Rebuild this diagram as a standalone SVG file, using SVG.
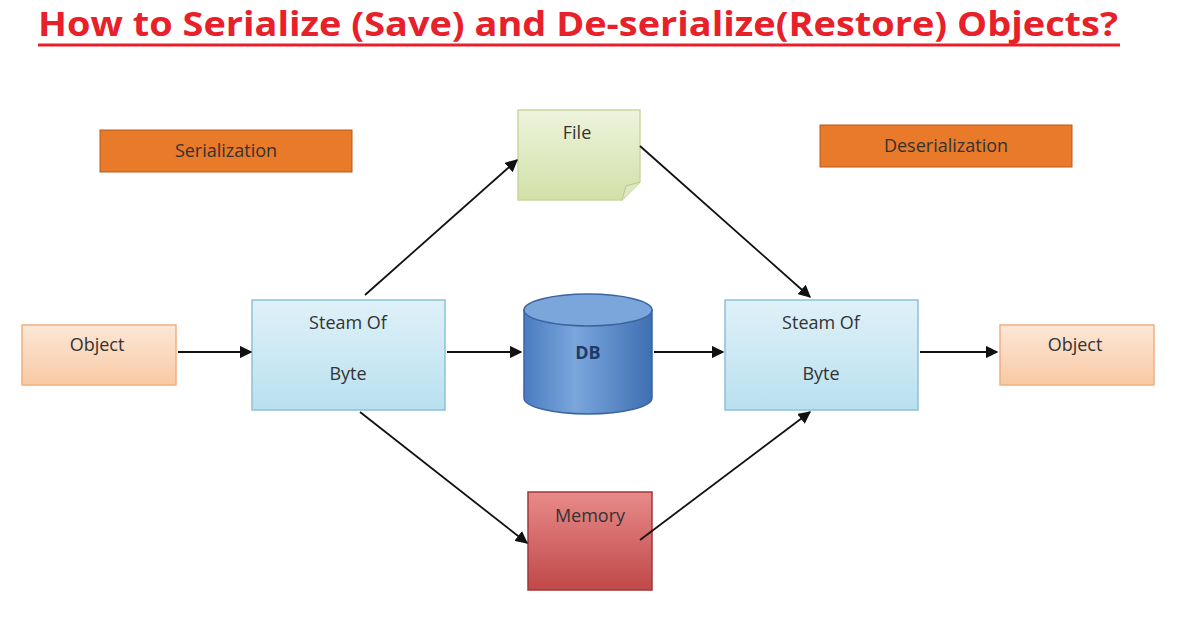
<svg xmlns="http://www.w3.org/2000/svg" width="1196" height="628" viewBox="0 0 1196 628">
<style>
text{font-family:"Open Sans","Liberation Sans",sans-serif;fill:#333;font-size:18px;text-anchor:middle}
.title{font-family:"Open Sans","Liberation Sans",sans-serif;font-weight:bold;font-size:34px;fill:#e8202a;text-anchor:start}
.con line{stroke:#111;stroke-width:1.8;marker-end:url(#ah)}
.lbl{fill:#e87a2a;stroke:#b85a1a;stroke-width:1}
.blue{fill:url(#gb);stroke:#8fc0d8;stroke-width:1.5}
.peach{fill:url(#gp);stroke:#f0b080;stroke-width:1.5}
</style>
<defs>
<marker id="ah" viewBox="0 0 10 10" refX="9" refY="5" markerWidth="7" markerHeight="7" orient="auto"><path d="M0,0L10,5L0,10z" fill="#111"/></marker>
<linearGradient id="gb" x1="0" y1="0" x2="0" y2="1"><stop offset="0" stop-color="#dff1f8"/><stop offset="1" stop-color="#b9e0ef"/></linearGradient>
<linearGradient id="gp" x1="0" y1="0" x2="0" y2="1"><stop offset="0" stop-color="#fde7d6"/><stop offset="1" stop-color="#f8c9a4"/></linearGradient>
<linearGradient id="gg" x1="0" y1="0" x2="0" y2="1"><stop offset="0" stop-color="#eef4dc"/><stop offset="1" stop-color="#d2e0a8"/></linearGradient>
<linearGradient id="gd" x1="0" y1="0" x2="1" y2="0"><stop offset="0" stop-color="#4a7cc0"/><stop offset="0.4" stop-color="#7aa6dc"/><stop offset="1" stop-color="#3e6fb2"/></linearGradient>
<linearGradient id="gm" x1="0" y1="0" x2="0" y2="1"><stop offset="0" stop-color="#e88a8a"/><stop offset="1" stop-color="#c04848"/></linearGradient>
</defs>
<rect width="1196" height="628" fill="#fff"/>
<text class="title" x="38" y="36" textLength="1080" lengthAdjust="spacingAndGlyphs">How to Serialize (Save) and De-serialize(Restore) Objects?</text>
<line x1="38" y1="45" x2="1120" y2="45" stroke="#e8202a" stroke-width="3"/>
<g id="serialization"><rect class="lbl" x="100" y="130" width="252" height="42"/><text x="226" y="157">Serialization</text></g>
<g id="deserialization"><rect class="lbl" x="820" y="125" width="252" height="42"/><text x="946" y="152">Deserialization</text></g>
<g id="file"><path d="M518,110H640V182L622,200H518Z" fill="url(#gg)" stroke="#c8d8a0" stroke-width="1.5"/><path d="M640,182L626,186L622,200" fill="#dfe8c0" stroke="#b8c890"/><text x="577" y="139">File</text></g>
<g id="object1"><rect class="peach" x="22" y="325" width="154" height="60"/><text x="97" y="351">Object</text></g>
<g id="object2"><rect class="peach" x="1000" y="325" width="154" height="60"/><text x="1075" y="351">Object</text></g>
<g id="steam1"><rect class="blue" x="252" y="300" width="193" height="110"/><text x="348" y="329">Steam Of</text><text x="348" y="380">Byte</text></g>
<g id="steam2"><rect class="blue" x="725" y="300" width="193" height="110"/><text x="821" y="329">Steam Of</text><text x="821" y="380">Byte</text></g>
<g id="db"><path d="M524,310V398A64,16 0 0 0 652,398V310Z" fill="url(#gd)" stroke="#3a64a0" stroke-width="1.5"/><ellipse cx="588" cy="310" rx="64" ry="16" fill="#7aa6dc" stroke="#3a64a0" stroke-width="1.5"/><text x="588" y="359" style="fill:#1e3a66;font-weight:bold">DB</text></g>
<g id="memory"><rect x="528" y="492" width="124" height="98" fill="url(#gm)" stroke="#a03838" stroke-width="1.5"/><text x="590" y="522">Memory</text></g>
<g class="con">
<line x1="178" y1="352" x2="251" y2="352"/>
<line x1="447" y1="352" x2="521" y2="352"/>
<line x1="654" y1="352" x2="723" y2="352"/>
<line x1="920" y1="352" x2="997" y2="352"/>
<line x1="365" y1="295" x2="517" y2="160"/>
<line x1="640" y1="146" x2="810" y2="297"/>
<line x1="360" y1="412" x2="527" y2="543"/>
<line x1="640" y1="540" x2="810" y2="412"/>
</g>
</svg>
